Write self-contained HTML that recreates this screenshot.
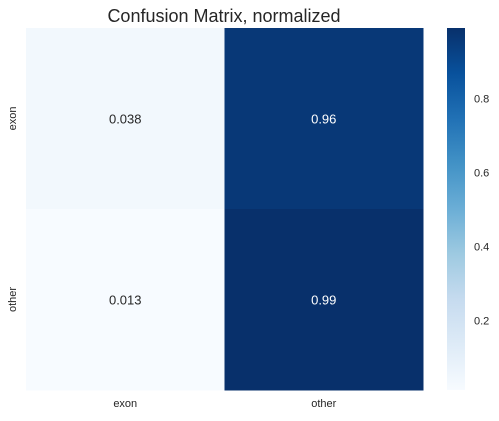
<!DOCTYPE html>
<html><head><meta charset="utf-8"><style>
body{margin:0;background:#fff;font-family:"Liberation Sans","DejaVu Sans",sans-serif;}
</style></head><body>
<svg width="499" height="416" viewBox="0 0 499 416" xmlns="http://www.w3.org/2000/svg">
<defs>
<linearGradient id="blues" x1="0" y1="1" x2="0" y2="0">
<stop offset="0" stop-color="#f7fbff"/><stop offset="0.125" stop-color="#deebf7"/>
<stop offset="0.25" stop-color="#c6dbef"/><stop offset="0.375" stop-color="#9ecae1"/>
<stop offset="0.5" stop-color="#6baed6"/><stop offset="0.625" stop-color="#4292c6"/>
<stop offset="0.75" stop-color="#2171b5"/><stop offset="0.875" stop-color="#08519c"/>
<stop offset="1" stop-color="#08306b"/>
</linearGradient>
</defs>
<text x="224" y="22" font-size="18" fill="#262626" text-anchor="middle">Confusion Matrix, normalized</text>
<g id="cells"></g>
<rect x="447" y="28" width="18" height="362" fill="url(#blues)"/>
<g id="cbticks"></g>
<g id="labels"></g>
</svg>
<script>
const rowLabels=["exon","other"];
const colLabels=["exon","other"];
const values=[[0.038,0.96],[0.013,0.99]];
const cbTicks=[0.2,0.4,0.6,0.8];
const vmin=0.013, vmax=0.99;
const L=26,T=28,W=397,H=362;
const stops=[[0,"#f7fbff"],[0.125,"#deebf7"],[0.25,"#c6dbef"],[0.375,"#9ecae1"],[0.5,"#6baed6"],[0.625,"#4292c6"],[0.75,"#2171b5"],[0.875,"#08519c"],[1,"#08306b"]];
function hex(h){return [1,3,5].map(i=>parseInt(h.substr(i,2),16));}
function color(v){let t=Math.max(0,Math.min(1,(v-vmin)/(vmax-vmin)));
for(let i=1;i<stops.length;i++){if(t<=stops[i][0]){const a=hex(stops[i-1][1]),b=hex(stops[i][1]);const f=(t-stops[i-1][0])/(stops[i][0]-stops[i-1][0]);return "rgb("+a.map((x,k)=>Math.round(x+(b[k]-x)*f)).join(",")+")";}}return stops[8][1];}
const NS="http://www.w3.org/2000/svg";
const cw=W/colLabels.length, ch=H/rowLabels.length;
const cells=document.getElementById("cells"), labels=document.getElementById("labels"), cbt=document.getElementById("cbticks");
values.forEach((row,r)=>row.forEach((v,c)=>{
const rc=document.createElementNS(NS,"rect");
rc.setAttribute("x",L+c*cw);rc.setAttribute("y",T+r*ch);rc.setAttribute("width",cw+0.5);rc.setAttribute("height",ch+0.5);rc.setAttribute("fill",color(v));


cells.appendChild(rc);
const tx=document.createElementNS(NS,"text");
tx.setAttribute("x",L+c*cw+cw/2);tx.setAttribute("y",T+r*ch+ch/2+5);tx.setAttribute("text-anchor","middle");tx.setAttribute("font-size","13");
tx.setAttribute("fill",v>0.5?"#ffffff":"#262626");tx.textContent=String(v);


cells.appendChild(tx);
}));
colLabels.forEach((l,c)=>{const t=document.createElementNS(NS,"text");
t.setAttribute("x",L+c*cw+cw/2);t.setAttribute("y",407);t.setAttribute("text-anchor","middle");t.setAttribute("font-size","11");t.setAttribute("fill","#262626");t.textContent=l;


labels.appendChild(t);});
rowLabels.forEach((l,r)=>{const t=document.createElementNS(NS,"text");const y=T+r*ch+ch/2;
t.setAttribute("transform","translate(16,"+y+") rotate(-90)");t.setAttribute("text-anchor","middle");t.setAttribute("font-size","11");t.setAttribute("fill","#262626");t.textContent=l;


labels.appendChild(t);});
cbTicks.forEach(v=>{const y=T+H-(v-vmin)/(vmax-vmin)*H;const t=document.createElementNS(NS,"text");
t.setAttribute("x",474);t.setAttribute("y",y+4);t.setAttribute("font-size","11");t.setAttribute("fill","#262626");t.textContent=v.toFixed(1);


cbt.appendChild(t);});
</script>
</body></html>
